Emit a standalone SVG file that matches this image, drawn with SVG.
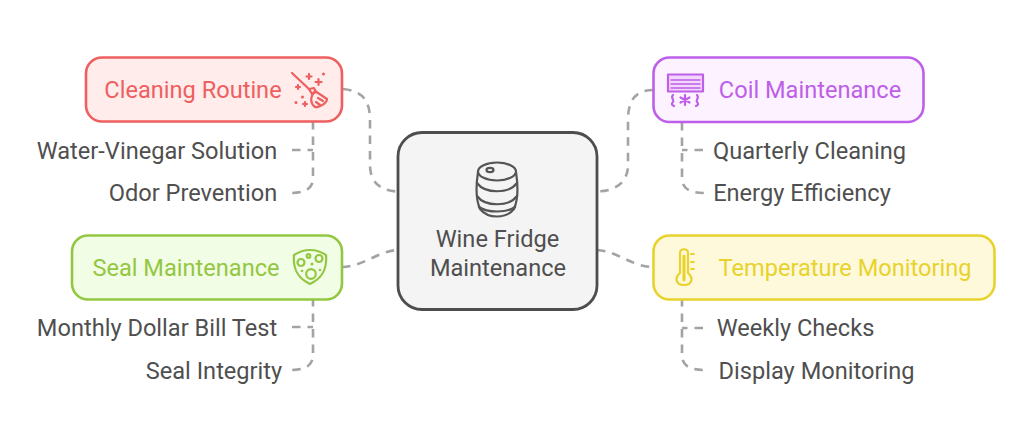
<svg xmlns="http://www.w3.org/2000/svg" width="1024" height="443" viewBox="0 0 1024 443">
<style>
text{font-family:"Roboto","Liberation Sans",sans-serif;font-size:23.6px;text-anchor:middle}
.leaf{fill:#4f4f4f}
.c{fill:none;stroke:#a3a3a3;stroke-width:2.6;stroke-dasharray:8.500 7}
.box{stroke-width:2.6}
.ic{fill:none;stroke-width:2.2;stroke-linecap:round;stroke-linejoin:round}
</style>
<rect width="1024" height="443" fill="#ffffff"/>
<g id="connectors">
<path class="c" d="M343 89 C362 91 370 100 370 120 L370 165 C370 182 380 191 398 191.500"/>
<path class="c" d="M313 121 L313 178 C313 190 303 193 290 193"/>
<path class="c" d="M292 150 L313 150"/>
<path class="c" d="M653 90 C636 90 628 100 628 120 L628 165 C628 182 616 191 597 191.500"/>
<path class="c" d="M682 122 L682 178 C682 190 692 193 705 193"/>
<path class="c" d="M703 150 L682 150"/>
<path class="c" d="M342 267 C362 267 378 251 398 250"/>
<path class="c" d="M313 298 L313 355 C313 367 303 370 291 370"/>
<path class="c" d="M292 327 L313 327"/>
<path class="c" d="M597 250 C617 251 633 267 653 267"/>
<path class="c" d="M682 298 L682 355 C682 367 692 370 705 370"/>
<path class="c" d="M703 328 L682 328"/>
</g>
<g id="center">
<rect x="398" y="132.500" width="199" height="177" rx="24" fill="#f4f4f4" stroke="#4d4d4d" stroke-width="2.800"/>
<g class="ic" stroke="#555555" stroke-width="2.400">
<ellipse cx="497" cy="171.500" rx="19" ry="9"/>
<ellipse cx="490" cy="170" rx="3.500" ry="2.200"/>
<path d="M478 172 C476 185 476 200 480 209 C488 219 506 219 514 209 C518 200 518 185 516 172"/>
<path d="M477 183 C485 194 509 194 517 183"/>
<path d="M477 196 C485 207 509 207 517 196"/>
<path d="M479 207 C487 213 507 213 515 207"/>
</g>
<text x="497.500" y="247" fill="#4f4f4f">Wine Fridge</text>
<text x="498" y="276" fill="#4f4f4f">Maintenance</text>
</g>
<g id="cleaning">
<rect class="box" x="86" y="57.500" width="256" height="64" rx="16" fill="#ffeceb" stroke="#ee5f5f"/>
<text x="193" y="98" fill="#ee5f5f">Cleaning Routine</text>
<g class="ic" stroke="#ee5f5f" fill="none">
<path d="M292 73 L310 90"/>
<path d="M309 89 L314 88 L316 92 L312 94 Z"/>
<path d="M315 91 L327 99 C327 103 319 108 315 107 C311 104 309 98 315 91 Z"/>
<path d="M318 98 L323 101 M316 102 L320 105"/>
<path d="M309 74 v5 M306.500 76.500 h5 M318.500 79 v6 M315.500 82 h6 M298 85 v4 M296 87 h4 M305 102 v4 M303 104 h4"/>
</g>
<g fill="#ee5f5f"><circle cx="323.500" cy="74" r="1.500"/><circle cx="296" cy="102.500" r="1.500"/><circle cx="302.500" cy="97" r="1.500"/></g>
</g>
<g id="coil">
<rect class="box" x="653.500" y="57.500" width="270" height="64.500" rx="16" fill="#fdf2ff" stroke="#bd5fe8"/>
<text x="810" y="98" fill="#bd5fe8">Coil Maintenance</text>
<g class="ic" stroke="#bd5fe8">
<rect x="668" y="74.500" width="35" height="17" fill="#f3d6fb"/>
<path d="M671 80 h29 M671 84 h29 M671 88 h29" stroke-width="1.400"/>
<path d="M673 95 C670 98 675 100 673 102 C671 104 672 105 674 106"/>
<path d="M697 95 C700 98 695 100 697 102 C699 104 698 105 696 106"/>
<path d="M685 95 v10 M680.500 97.500 l9 5 M689.500 97.500 l-9 5"/>
</g>
</g>
<g id="seal">
<rect class="box" x="72" y="235.500" width="270" height="64" rx="16" fill="#f2fde5" stroke="#93c742"/>
<text x="186" y="275.500" fill="#93c742">Seal Maintenance</text>
<g class="ic" stroke="#93c742">
<path d="M294 255 C300 251 304 250 310 250 C316 250 320 251 326 255 C327 266 325 277 310 284 C295 277 293 266 294 255 Z"/>
<circle cx="301" cy="262.500" r="3.500"/><circle cx="319" cy="258.500" r="3.500"/><circle cx="311" cy="274" r="4.800"/><circle cx="308.500" cy="256" r="1.800"/>
</g>
<g fill="#93c742"><circle cx="312" cy="264" r="1.500"/><circle cx="302" cy="271" r="1.300"/><circle cx="320" cy="270" r="1.300"/></g>
</g>
<g id="temperature">
<rect class="box" x="653.500" y="235.500" width="341" height="64" rx="16" fill="#fff9dc" stroke="#e8d22c"/>
<text x="845" y="275.500" fill="#e8d22c">Temperature Monitoring</text>
<g class="ic" stroke="#e8d22c">
<path d="M680 253 C680 248 688 248 688 253 L688 273 C694 278 692 285 684 285 C676 285 674 278 680 273 Z"/>
<path d="M684 256 L684 280" stroke-width="3"/>
<path d="M691 254 h3 M691 262 h3 M691 269 h3" stroke-width="1.800"/>
</g>
</g>
<g id="leaf-water"><text class="leaf" x="157" y="159">Water-Vinegar Solution</text></g>
<g id="leaf-odor"><text class="leaf" x="193" y="201">Odor Prevention</text></g>
<g id="leaf-quarterly"><text class="leaf" x="809.500" y="159">Quarterly Cleaning</text></g>
<g id="leaf-energy"><text class="leaf" x="802" y="201">Energy Efficiency</text></g>
<g id="leaf-dollar"><text class="leaf" x="157" y="336">Monthly Dollar Bill Test</text></g>
<g id="leaf-integrity"><text class="leaf" x="214" y="378.500">Seal Integrity</text></g>
<g id="leaf-weekly"><text class="leaf" x="795.500" y="336">Weekly Checks</text></g>
<g id="leaf-display"><text class="leaf" x="816.500" y="378.500">Display Monitoring</text></g>
</svg>
